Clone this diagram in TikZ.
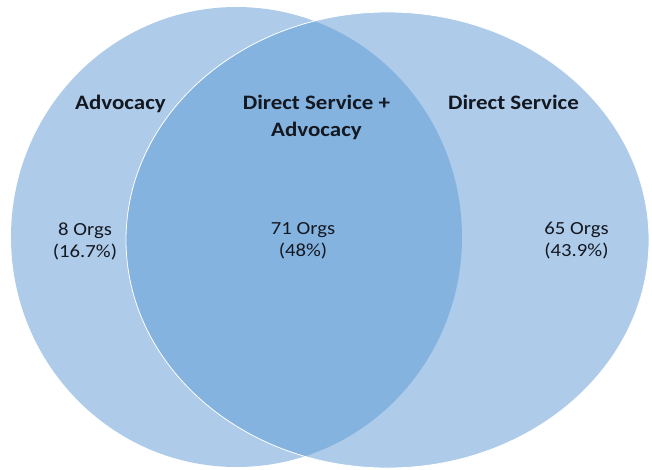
\documentclass[tikz,border=0pt]{standalone}
\usepackage{fontspec}
\setmainfont{Carlito}
\newfontfamily\vennfont[FakeStretch=1.12]{Carlito}
\usepackage{tikz}
\usetikzlibrary{positioning,calc}

\definecolor{venlight}{RGB}{174,203,233}
\definecolor{vendark}{RGB}{132,179,224}
\definecolor{ventext}{RGB}{20,24,32}

\tikzset{
  setname/.style={font=\vennfont\bfseries\fontsize{20.5}{27}\selectfont, text=ventext, align=center, inner sep=0pt},
  setcount/.style={font=\vennfont\fontsize{18.5}{22}\selectfont, text=ventext, align=center, inner sep=0pt}
}

\begin{document}
\begin{tikzpicture}[x=1pt, y=-1pt]
\useasboundingbox (0,0) rectangle (652,469);
% the two sets
\fill[venlight] (236.5,237) ellipse (225.5 and 230);
\fill[venlight] (387.5,240) ellipse (261.5 and 228);
% overlap
\begin{scope}
  \clip (236.5,237) ellipse (225.5 and 230);
  \fill[vendark] (387.5,240) ellipse (261.5 and 228);
\end{scope}
\draw[white, line width=0.8pt] (387.5,240) ellipse (261.5 and 228);
% labels
\node[setname, anchor=base] (advname) at (120.5,109) {Advocacy};
\node[setname] (bothname) at (316.5,117) {Direct Service +\\Advocacy};
\node[setname, anchor=base] (dirname) at (513.5,109) {Direct Service};
\node[setcount] (advcount) at (85,241) {8 Orgs\\(16.7\%)};
\node[setcount] (bothcount) at (303,241) {71 Orgs\\(48\%)};
\node[setcount] (dircount) at (576.5,241) {65 Orgs\\(43.9\%)};
\end{tikzpicture}
\end{document}
